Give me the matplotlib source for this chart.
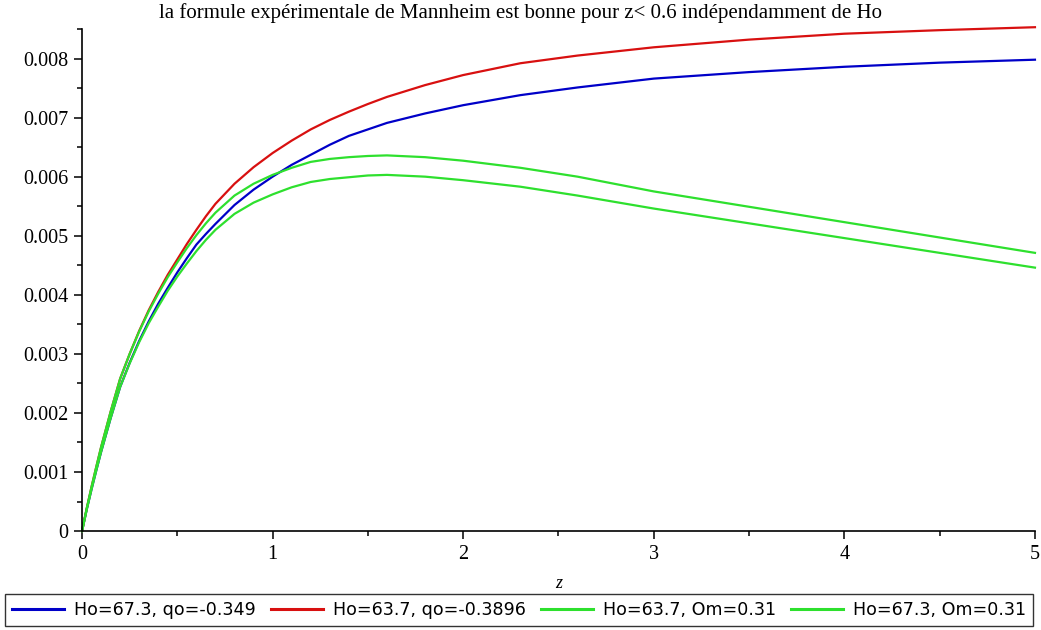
import matplotlib
matplotlib.use("Agg")
import matplotlib.pyplot as plt
from matplotlib.ticker import MultipleLocator, FixedLocator

# z grid shared by all curves
z = [0, 0.025, 0.05, 0.075, 0.1, 0.15, 0.2, 0.25, 0.3, 0.35, 0.4, 0.45, 0.5, 0.55, 0.6, 0.65,
     0.7, 0.8, 0.9, 1.0, 1.1, 1.2, 1.3, 1.4, 1.5, 1.6, 1.8, 2.0, 2.3, 2.6, 3.0, 3.5, 4.0, 4.5, 5.0]

# values, in units of 1e-3
blue_vals = [0, 0.37, 0.71, 1.03, 1.34, 1.91, 2.44, 2.85, 3.22, 3.55, 3.85, 4.12, 4.38, 4.62, 4.85,
             5.03, 5.20, 5.52, 5.78, 6.00, 6.20, 6.37, 6.54, 6.69, 6.80, 6.91, 7.07, 7.21, 7.38,
             7.51, 7.66, 7.77, 7.86, 7.93, 7.98]
red_vals = [0, 0.39, 0.75, 1.09, 1.42, 2.02, 2.58, 3.00, 3.39, 3.74, 4.05, 4.34, 4.60, 4.86, 5.10,
            5.33, 5.54, 5.88, 6.16, 6.40, 6.61, 6.80, 6.96, 7.10, 7.23, 7.35, 7.55, 7.72, 7.92,
            8.05, 8.19, 8.32, 8.42, 8.48, 8.53]
green1_vals = [0, 0.39, 0.75, 1.09, 1.42, 2.02, 2.58, 3.00, 3.38, 3.72, 4.02, 4.30, 4.55, 4.79, 5.01,
               5.21, 5.39, 5.68, 5.88, 6.03, 6.15, 6.25, 6.30, 6.33, 6.35, 6.36, 6.33, 6.27, 6.15,
               6.00, 5.75, 5.49, 5.23, 4.97, 4.71]
green2_vals = [0, 0.37, 0.71, 1.03, 1.34, 1.91, 2.44, 2.84, 3.20, 3.52, 3.80, 4.07, 4.31, 4.53, 4.74,
               4.93, 5.10, 5.37, 5.56, 5.70, 5.82, 5.91, 5.96, 5.99, 6.02, 6.03, 6.00, 5.94, 5.83,
               5.68, 5.46, 5.21, 4.96, 4.71, 4.46]

labels = ["Ho=67.3, qo=-0.349", "Ho=63.7, qo=-0.3896", "Ho=63.7, Om=0.31", "Ho=67.3, Om=0.31"]
colors = ["#0000C8", "#D81010", "#2EE02E", "#2EE02E"]

title = "la formule expérimentale de Mannheim est bonne pour z< 0.6 indépendamment de Ho"
xticks = [0, 1, 2, 3, 4, 5]
yticks = [0, 0.001, 0.002, 0.003, 0.004, 0.005, 0.006, 0.007, 0.008]
ytick_labels = ["0", "0.001", "0.002", "0.003", "0.004", "0.005", "0.006", "0.007", "0.008"]

serif = "Liberation Serif"

fig = plt.figure(figsize=(10.41, 6.30), dpi=100)
ax = fig.add_axes([0.0788, 0.157, 0.9154, 0.797])

series = [blue_vals, red_vals, green1_vals, green2_vals]
for vals, col, lab in zip(series, colors, labels):
    ax.plot(z, [v * 1e-3 for v in vals], color=col, lw=1.6, label=lab, clip_on=False)

ax.set_xlim(0, 5)
ax.set_ylim(0, 0.0085)

for side in ["top", "right"]:
    ax.spines[side].set_visible(False)
for side in ["left", "bottom"]:
    ax.spines[side].set_linewidth(1.2)

ax.xaxis.set_major_locator(FixedLocator(xticks))
ax.xaxis.set_minor_locator(MultipleLocator(0.5))
ax.yaxis.set_major_locator(FixedLocator(yticks))
ax.yaxis.set_minor_locator(MultipleLocator(0.0005))
ax.set_yticklabels(ytick_labels)
ax.set_xticklabels([str(t) for t in xticks])

ax.tick_params(which="major", direction="out", length=6, width=1.1, pad=4,
               labelsize=14.5)
ax.tick_params(which="minor", direction="out", length=3.8, width=1.1)
for lbl in ax.get_xticklabels() + ax.get_yticklabels():
    lbl.set_fontfamily(serif)

ax.set_xlabel("z", fontfamily=serif, fontstyle="italic", fontsize=13, labelpad=8)
fig.text(0.5, 0.979, title, ha="center", va="center", fontfamily=serif, fontsize=15)

leg = fig.legend(loc="lower center", bbox_to_anchor=(0.4985, 0.006), ncol=4,
                 frameon=True, fancybox=False, handlelength=3.0, handletextpad=0.55,
                 columnspacing=0.85, borderpad=0.4, borderaxespad=0,
                 prop={"family": "DejaVu Sans", "size": 12.6})
leg.get_frame().set_edgecolor("black")
leg.get_frame().set_linewidth(1.0)
for h in leg.get_lines():
    h.set_linewidth(2.2)

fig.savefig("out.png", dpi=100)
